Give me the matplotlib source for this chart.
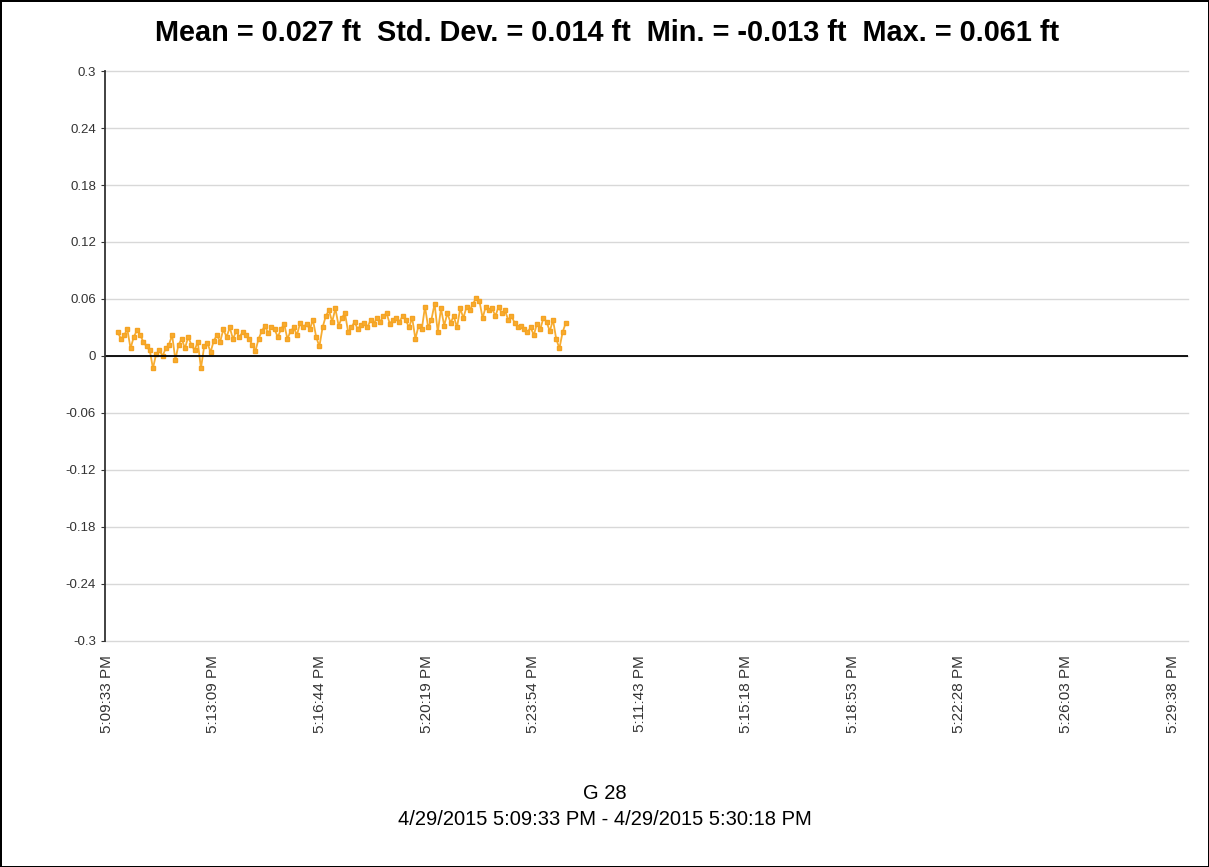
import numpy as np
import matplotlib
matplotlib.use("Agg")
import matplotlib.pyplot as plt

plt.rcParams['font.family'] = ['Liberation Sans', 'DejaVu Sans']

# elevation readings (ft), one every sample
values = [0.025, 0.018, 0.022, 0.028, 0.008, 0.020, 0.027, 0.022, 0.015, 0.010,
          0.006, -0.013, 0.002, 0.006, 0.000, 0.008, 0.012, 0.022, -0.004, 0.012,
          0.018, 0.008, 0.020, 0.012, 0.006, 0.015, -0.013, 0.010, 0.014, 0.004,
          0.016, 0.022, 0.015, 0.028, 0.020, 0.030, 0.018, 0.026, 0.020, 0.025,
          0.022, 0.018, 0.012, 0.005, 0.018, 0.026, 0.032, 0.024, 0.030, 0.028,
          0.020, 0.028, 0.034, 0.018, 0.026, 0.030, 0.022, 0.035, 0.030, 0.034,
          0.028, 0.038, 0.020, 0.010, 0.030, 0.042, 0.048, 0.036, 0.050, 0.032,
          0.040, 0.045, 0.025, 0.030, 0.036, 0.028, 0.033, 0.035, 0.030, 0.038,
          0.034, 0.040, 0.036, 0.042, 0.045, 0.034, 0.038, 0.040, 0.036, 0.042,
          0.038, 0.030, 0.040, 0.018, 0.032, 0.028, 0.052, 0.030, 0.038, 0.055,
          0.025, 0.050, 0.032, 0.045, 0.035, 0.042, 0.030, 0.050, 0.040, 0.052,
          0.048, 0.055, 0.061, 0.058, 0.040, 0.052, 0.048, 0.050, 0.042, 0.052,
          0.045, 0.048, 0.038, 0.042, 0.035, 0.030, 0.032, 0.028, 0.025, 0.030,
          0.022, 0.034, 0.028, 0.040, 0.036, 0.026, 0.038, 0.018, 0.008, 0.025,
          0.035]

tick_labels = ['5:09:33 PM', '5:13:09 PM', '5:16:44 PM', '5:20:19 PM', '5:23:54 PM',
               '5:11:43 PM', '5:15:18 PM', '5:18:53 PM', '5:22:28 PM', '5:26:03 PM',
               '5:29:38 PM']
y_ticks = [0.3, 0.24, 0.18, 0.12, 0.06, 0, -0.06, -0.12, -0.18, -0.24, -0.3]

title = 'Mean = 0.027 ft  Std. Dev. = 0.014 ft  Min. = -0.013 ft  Max. = 0.061 ft'
xlabel = 'G 28\n4/29/2015 5:09:33 PM - 4/29/2015 5:30:18 PM'

fig = plt.figure(figsize=(12.09, 8.67), dpi=100)
fig.patch.set_edgecolor('black')
fig.patch.set_linewidth(2)
ax = fig.add_axes([0.0868, 0.2607, 0.8958, 0.6574])

x = np.arange(len(values))
ax.plot(x, values, color='#F7AC30', lw=1.3, marker='s', ms=2.4, mec='#F5A322')

ax.set_xlim(-4, 334.4)
ax.set_ylim(-0.3, 0.3)
ax.set_yticks(y_ticks)
ax.set_yticklabels([f'{t:g}' for t in y_ticks], fontsize=9.5, color='#333333')
ax.set_xticks([-3.4 + 33.3 * k for k in range(len(tick_labels))])
ax.set_xticklabels(tick_labels, rotation=90, fontsize=11, color='#333333')
ax.tick_params(axis='x', length=0, pad=10)
ax.tick_params(axis='y', length=3, color='#333333')

for t in y_ticks:
    ax.axhline(t, color='#D8D8D8', lw=1, zorder=0, clip_on=False)
ax.axhline(0, color='black', lw=1.3)
for s in ['top', 'right', 'bottom']:
    ax.spines[s].set_visible(False)
ax.spines['left'].set_color('#333333')
ax.spines['left'].set_linewidth(1.3)

fig.text(0.502, 0.962, title, ha='center', va='center', fontsize=20.8, fontweight='bold')
fig.text(0.5, 0.070, xlabel, ha='center', va='center', fontsize=14.5, linespacing=1.5)

fig.savefig('out.png', dpi=100, edgecolor=fig.get_edgecolor())
